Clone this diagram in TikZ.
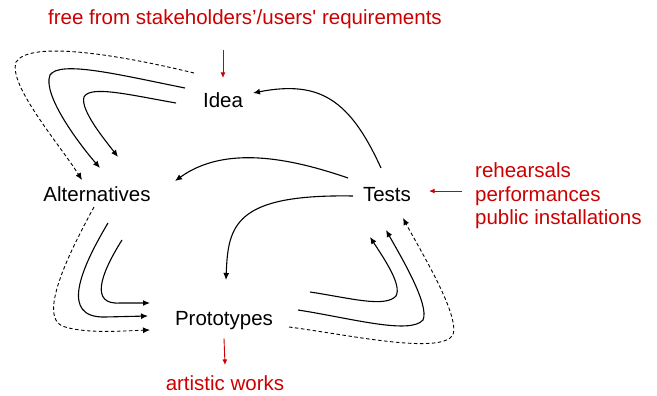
\documentclass[tikz,border=0pt]{standalone}
\usepackage{fontspec}
\setmainfont{Liberation Sans}
\usetikzlibrary{arrows.meta}
\definecolor{remark}{RGB}{204,0,0}
\tikzset{
  stage/.style={font=\fontsize{20.5}{24}\selectfont, inner sep=0pt, anchor=base},
  note/.style={font=\fontsize{20.5}{23.5}\selectfont, inner sep=0pt, text=remark},
  flow/.style={line width=1.1pt, -{Latex[length=7pt,width=6pt]}},
  iter/.style={flow, line width=0.9pt, dash pattern=on 3.5pt off 2.5pt},
  hint/.style={draw=remark, line width=0.9pt, -{Latex[length=5.5pt,width=5pt]}}
}
\begin{document}
\begin{tikzpicture}[x=1pt,y=-1pt]
  \useasboundingbox (0,0) rectangle (657,396);
  % the four stages
  \node[stage] (idea) at (223,107) {Idea};
  \node[stage] (alt) at (97,201) {Alternatives};
  \node[stage] (tests) at (387,201) {Tests};
  \node[stage] (proto) at (224,325) {Prototypes};
  % red remarks
  \node[note, anchor=base] (req) at (245,25) {free from stakeholders’/users\textquotesingle{} requirements};
  \node[note, align=left, anchor=north west] (venues) at (475,162.5) {rehearsals\\performances\\public installations};
  \node[note, anchor=base] (works) at (225,390) {artistic works};
  \draw[hint] ([yshift=-21pt]req.south -| idea) -- ([yshift=14pt]idea.north);
  \draw[hint] ([xshift=-13pt,yshift=3pt]venues.west |- tests.east) -- ([xshift=18pt,yshift=3pt]tests.east);
  \draw[hint] ([yshift=-9pt]proto.south) -- ([yshift=10pt]works.north);
  % idea -> alternatives
  \draw[iter] (194,73) .. controls (120,55) and (30,40) .. (16,62)
              .. controls (8,85) and (60,145) .. (82,180);
  \draw[flow] (185,88) .. controls (120,75) and (60,60) .. (50,75)
              .. controls (42,95) and (80,145) .. (100,168);
  \draw[flow] (176,103) .. controls (130,95) and (90,85) .. (84,97)
              .. controls (80,110) and (105,140) .. (118,157);
  % alternatives -> prototypes
  \draw[iter] (94,207) .. controls (65,260) and (40,315) .. (62,326)
              .. controls (85,334) and (120,331) .. (150,330);
  \draw[flow] (108,223) .. controls (80,270) and (60,318) .. (105,317) -- (148,316);
  \draw[flow] (122,240) .. controls (100,275) and (90,305) .. (120,303) -- (150,303);
  % prototypes -> tests
  \draw[flow] (310,292) .. controls (350,298) and (385,308) .. (396,296)
              .. controls (402,285) and (385,260) .. (370,237);
  \draw[flow] (298,310) .. controls (350,318) and (410,335) .. (423,320)
              .. controls (430,305) and (400,255) .. (386,230);
  \draw[iter] (289,327) .. controls (350,335) and (440,355) .. (453,335)
              .. controls (460,315) and (420,250) .. (403,218);
  % tests -> back
  \draw[flow] (381,168) .. controls (350,100) and (320,80) .. (253,93);
  \draw[flow] (348,178) .. controls (290,158) and (225,145) .. (175,181);
  \draw[flow] (353,196) .. controls (235,194) and (228,225) .. (226,280);
\end{tikzpicture}
\end{document}
